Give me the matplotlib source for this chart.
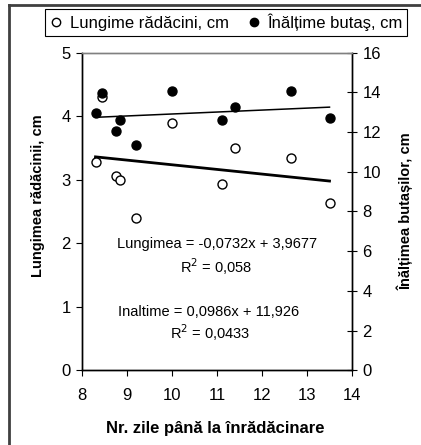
import matplotlib
matplotlib.use("Agg")
import matplotlib.pyplot as plt
from matplotlib.lines import Line2D
import numpy as np

plt.rcParams['font.family'] = ['Liberation Sans', 'DejaVu Sans']

# Data
zile = [8.3, 8.45, 8.75, 8.85, 9.2, 10.0, 11.1, 11.4, 12.65, 13.5]
lungime = [3.28, 4.30, 3.06, 2.99, 2.39, 3.90, 2.93, 3.50, 3.35, 2.64]
inaltime = [12.95, 13.98, 12.07, 12.62, 11.35, 14.06, 12.62, 13.28, 14.06, 12.71]
trend_lungime = (-0.0732, 3.9677)
trend_inaltime = (0.0986, 11.926)
eq_lungime = ["Lungimea = -0,0732x + 3,9677", "R$^2$ = 0,058"]
eq_inaltime = ["Inaltime = 0,0986x + 11,926", "R$^2$ = 0,0433"]
xticks = [8, 9, 10, 11, 12, 13, 14]
yticks_left = [0, 1, 2, 3, 4, 5]
yticks_right = [0, 2, 4, 6, 8, 10, 12, 14, 16]

W, H = 421, 445
fig = plt.figure(figsize=(W/100, H/100), dpi=100)
ax = fig.add_axes([82/W, 1-370.3/H, 270/W, (370.3-52.7)/H])
ax2 = ax.twinx()

x = np.array(zile)
xr = np.array([x.min(), x.max()])
ax.plot(xr, trend_lungime[0]*xr + trend_lungime[1], color='black', lw=2.0, zorder=2)
ax2.plot(xr, trend_inaltime[0]*xr + trend_inaltime[1], color='black', lw=1.1, zorder=2)

ax.scatter(zile, lungime, s=42, facecolors='white', edgecolors='black', linewidths=1.0, zorder=3)
ax2.scatter(zile, inaltime, s=42, facecolors='black', edgecolors='black', linewidths=1.0, zorder=3)

ax.set_xlim(8, 14)
ax.set_ylim(0, 5)
ax2.set_ylim(0, 16)
ax.set_xticks(xticks)
ax.set_yticks(yticks_left)
ax2.set_yticks(yticks_right)

fs = 12
ax.tick_params(axis='both', labelsize=fs, direction='out', length=4, width=0.8, colors='black')
ax2.tick_params(axis='y', labelsize=fs, direction='inout', length=7, width=0.8)
ax.tick_params(axis='x', pad=9)
ax.tick_params(axis='y', pad=4)
ax2.tick_params(axis='y', pad=4)

for a in (ax, ax2):
    for s in ['left', 'right', 'bottom']:
        a.spines[s].set_linewidth(1.0)
        a.spines[s].set_color('black')
    a.spines['top'].set_color('#808080')
    a.spines['top'].set_linewidth(1.0)

ax.set_xlabel("Nr. zile până la înrădăcinare", fontsize=12, fontweight='bold')
ax.xaxis.set_label_coords((215-82)/270, -(428-370.3)/317.6)
ax.set_ylabel("Lungimea rădăcinii, cm", fontsize=10.5, fontweight='bold')
ax.yaxis.set_label_coords(-(82-38)/270, (370.3-196)/317.6)
ax2.set_ylabel("Înălțimea butașilor, cm", fontsize=10.5, fontweight='bold', rotation=90)
ax2.yaxis.set_label_coords(1+(405-352)/270, (370.3-211)/317.6)
ax.xaxis.label.set_va('center')
ax.yaxis.label.set_va('center')
ax2.yaxis.label.set_va('center')

def figtext(px, py, s, fsz=10.5):
    fig.text(px/W, 1-py/H, s, ha='center', va='center', fontsize=fsz)

figtext(217, 244, eq_lungime[0])
figtext(216, 267, eq_lungime[1])
figtext(209, 312, eq_inaltime[0])
figtext(210, 333, eq_inaltime[1])

handles = [Line2D([], [], ls='none', marker='o', mfc='white', mec='black', ms=6, mew=1.0),
           Line2D([], [], ls='none', marker='o', mfc='black', mec='black', ms=6, mew=1.0)]
leg = fig.legend(handles, ["Lungime rădăcini, cm", "Înălțime butaş, cm"], ncol=2,
                 loc='center', bbox_to_anchor=(226/W, 1-22.5/H), fontsize=fs,
                 frameon=True, fancybox=False, edgecolor='black', framealpha=1,
                 handlelength=0.8, handletextpad=0.4, columnspacing=1.1,
                 borderpad=0.3, borderaxespad=0)
leg.get_frame().set_linewidth(0.8)

# figure border (left and top)
fig.add_artist(Line2D([9/W, 9/W], [0, 1-5/H], color='#404040', lw=2.0, transform=fig.transFigure))
fig.add_artist(Line2D([9/W, 1], [1-5/H, 1-5/H], color='#404040', lw=2.0, transform=fig.transFigure))

fig.savefig("out.png", dpi=100)
